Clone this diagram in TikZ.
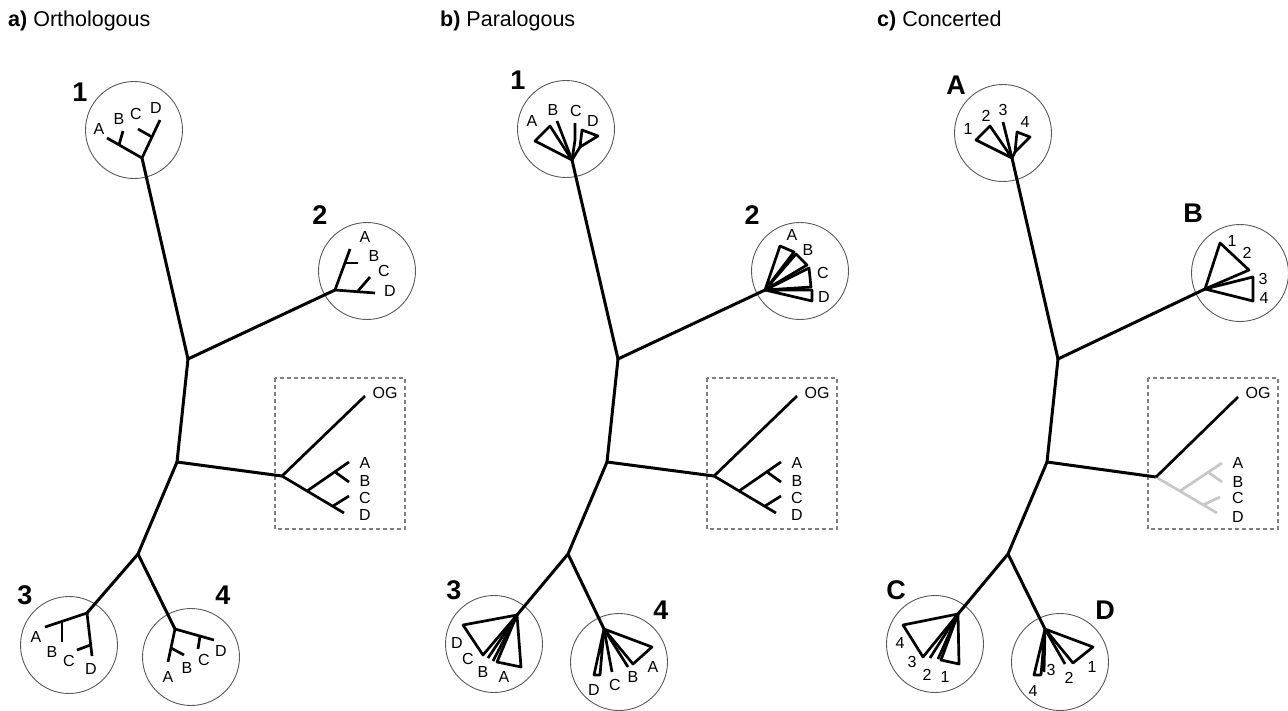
\documentclass[tikz,border=0pt]{standalone}
\usepackage{fontspec}
\setmainfont{Liberation Sans}
\begin{document}
\begin{tikzpicture}[x=1pt,y=-1pt]
\tikzset{
 trunk/.style={line width=3pt, line cap=round},
 br/.style={line width=2.7pt, line join=round, line cap=butt},
 ring/.style={circle, draw=black!65, line width=0.9pt, minimum size=97pt, inner sep=0pt},
 lab/.style={font=\fontsize{16}{16}\selectfont, inner sep=0pt},
 big/.style={font=\bfseries\fontsize{27}{27}\selectfont, inner sep=0pt},
 ttl/.style={font=\fontsize{21.5}{21.5}\selectfont, anchor=west, inner sep=0pt},
 ogbox/.style={draw=black!50, line width=1.1pt, dash pattern=on 4pt off 3pt},
 gr/.style={br, draw=black!22},
}
\useasboundingbox (0,0) rectangle (1288,710);

% ---------------- titles
\node[ttl] (ta) at (8,21) {\textbf{a)} Orthologous};
\node[ttl] (tb) at (440,21) {\textbf{b)} Paralogous};
\node[ttl] (tc) at (877,21) {\textbf{c)} Concerted};

% =============== PANEL A
\node[ring] (a-c1) at (134,130) {};
\node[ring] (a-c2) at (367,271) {};
\node[ring] (a-c3) at (69,645) {};
\node[ring] (a-c4) at (191,657) {};
\draw[ogbox] (275,378) rectangle (405,529);
\node[big] (a-l1) at (80,92) {1};
\node[big] (a-l2) at (320,215) {2};
\node[big] (a-l3) at (25,595) {3};
\node[big] (a-l4) at (223,595) {4};

\coordinate (a-n1) at (188,359);
\coordinate (a-n2) at (177,462);
\coordinate (a-n3) at (138,554);
\coordinate (a-r1) at (142,158);
\coordinate (a-r2) at (335,290);
\coordinate (a-og) at (282,476);
\coordinate (a-r3) at (87,613);
\coordinate (a-r4) at (175,629);
\draw[trunk] (a-r1) -- (a-n1) -- (a-r2);
\draw[trunk] (a-n1) -- (a-n2) -- (a-og);
\draw[trunk] (a-n2) -- (a-n3) -- (a-r3);
\draw[trunk] (a-n3) -- (a-r4);

% circle 1
\draw[br] (107,138) -- (a-r1) -- (160,120);
\draw[br] (119,145) -- (123,131);
\draw[br] (152,137) -- (138,129);
\node[lab] (a1A) at (99,129) {A};
\node[lab] (a1B) at (119,119) {B};
\node[lab] (a1C) at (136,114) {C};
\node[lab] (a1D) at (156,108) {D};
% circle 2
\draw[br] (350,249) -- (a-r2) -- (375,293);
\draw[br] (345,263) -- (358,263);
\draw[br] (358,291) -- (370,277);
\node[lab] (a2A) at (365,237) {A};
\node[lab] (a2B) at (374,256) {B};
\node[lab] (a2C) at (384,271) {C};
\node[lab] (a2D) at (390,291) {D};
% circle 3
\draw[br] (45,627) -- (a-r3) -- (92,656);
\draw[br] (62,621) -- (62,642);
\draw[br] (90.5,645) -- (77,650);
\node[lab] (a3A) at (36,637) {A};
\node[lab] (a3B) at (52,652) {B};
\node[lab] (a3C) at (69,661) {C};
\node[lab] (a3D) at (91,669) {D};
% circle 4
\draw[br] (168,662) -- (a-r4) -- (214,640);
\draw[br] (171,648) -- (184,655);
\draw[br] (200,636) -- (198,649);
\node[lab] (a4A) at (168,677) {A};
\node[lab] (a4B) at (187,668) {B};
\node[lab] (a4C) at (204,660) {C};
\node[lab] (a4D) at (221,651) {D};
% box
\draw[br] (365,396) -- (a-og) -- (344,513);
\draw[br] (307,491) -- (349,462);
\draw[br] (335,472) -- (349,482);
\draw[br] (333,506) -- (349,496);
\node[lab] (aOG) at (385,393) {OG};
\node[lab] (abA) at (365,463) {A};
\node[lab] (abB) at (365,481) {B};
\node[lab] (abC) at (365,498) {C};
\node[lab] (abD) at (365,515) {D};

% =============== PANEL B
\node[ring] (b-c1) at (566,129) {};
\node[ring] (b-c2) at (800,271) {};
\node[ring] (b-c3) at (494,644) {};
\node[ring] (b-c4) at (619,662) {};
\draw[ogbox] (707,378) rectangle (837,529);
\node[big] (b-l1) at (518,80) {1};
\node[big] (b-l2) at (752,215) {2};
\node[big] (b-l3) at (454,590) {3};
\node[big] (b-l4) at (661,610) {4};

\coordinate (b-n1) at (618,359);
\coordinate (b-n2) at (607,462);
\coordinate (b-n3) at (568,554);
\coordinate (b-r1) at (572,160);
\coordinate (b-r2) at (765,290);
\coordinate (b-og) at (714,476);
\coordinate (b-r3) at (517,615);
\coordinate (b-r4) at (604,629);
\draw[trunk] (b-r1) -- (b-n1) -- (b-r2);
\draw[trunk] (b-n1) -- (b-n2) -- (b-og);
\draw[trunk] (b-n2) -- (b-n3) -- (b-r3);
\draw[trunk] (b-n3) -- (b-r4);

% circle 1
\draw[br] (b-r1) -- (535,141) -- (550,126) -- cycle;
\draw[br] (b-r1) -- (557,121);
\draw[br] (b-r1) -- (575,140) -- (575,123);
\draw[br] (b-r1) -- (580,147);
\draw[br] (580,147) -- (582,130) -- (598,136) -- cycle;
\node[lab] (b1A) at (532,121) {A};
\node[lab] (b1B) at (553,110) {B};
\node[lab] (b1C) at (576,111) {C};
\node[lab] (b1D) at (593,121) {D};
% circle 2
\draw[br] (b-r2) -- (780,246) -- (794,252) -- cycle;
\draw[br] (b-r2) -- (796,254) -- (807,265) -- cycle;
\draw[br] (b-r2) -- (809,268) -- (811,287) -- cycle;
\draw[br] (b-r2) -- (812,290) -- (812,301) -- cycle;
\node[lab] (b2A) at (792,235) {A};
\node[lab] (b2B) at (808,250) {B};
\node[lab] (b2C) at (823,273) {C};
\node[lab] (b2D) at (824,297) {D};
% circle 3
\draw[br] (b-r3) -- (463,625) -- (483,655) -- cycle;
\draw[br] (b-r3) -- (488,658);
\draw[br] (b-r3) -- (493,661);
\draw[br] (b-r3) -- (497,662) -- (521,667) -- cycle;
\node[lab] (b3D) at (457,643) {D};
\node[lab] (b3C) at (468,659) {C};
\node[lab] (b3B) at (483,672) {B};
\node[lab] (b3A) at (504,677) {A};
% circle 4
\draw[br] (b-r4) -- (594,675) -- (600,675) -- cycle;
\draw[br] (b-r4) -- (612,672);
\draw[br] (b-r4) -- (628,667);
\draw[br] (b-r4) -- (652,647) -- (633,664) -- cycle;
\node[lab] (b4D) at (594,690) {D};
\node[lab] (b4C) at (615,685) {C};
\node[lab] (b4B) at (633,677) {B};
\node[lab] (b4A) at (653,667) {A};
% box
\draw[br] (797,396) -- (b-og) -- (776,513);
\draw[br] (739,491) -- (781,462);
\draw[br] (767,472) -- (781,482);
\draw[br] (765,506) -- (781,496);
\node[lab] (bOG) at (817,393) {OG};
\node[lab] (bbA) at (797,463) {A};
\node[lab] (bbB) at (797,481) {B};
\node[lab] (bbC) at (797,498) {C};
\node[lab] (bbD) at (797,515) {D};

% =============== PANEL C
\node[ring] (c-cA) at (1003,133) {};
\node[ring] (c-cB) at (1240,273) {};
\node[ring] (c-cC) at (935,644) {};
\node[ring] (c-cD) at (1060,662) {};
\draw[ogbox] (1148,378) rectangle (1278,529);
\node[big] (c-lA) at (956,85) {A};
\node[big] (c-lB) at (1193,213) {B};
\node[big] (c-lC) at (896,590) {C};
\node[big] (c-lD) at (1105,610) {D};

\coordinate (c-n1) at (1058,359);
\coordinate (c-n2) at (1047,462);
\coordinate (c-n3) at (1008,554);
\coordinate (c-r1) at (1012,158);
\coordinate (c-r2) at (1205,289);
\coordinate (c-og) at (1156,477);
\coordinate (c-r3) at (958,614);
\coordinate (c-r4) at (1045,629);
\draw[trunk] (c-r1) -- (c-n1) -- (c-r2);
\draw[trunk] (c-n1) -- (c-n2) -- (c-og);
\draw[trunk] (c-n2) -- (c-n3) -- (c-r3);
\draw[trunk] (c-n3) -- (c-r4);

% circle A
\draw[br] (c-r1) -- (976,140) -- (990,126) -- cycle;
\draw[br] (c-r1) -- (1003,122);
\draw[br] (c-r1) -- (1015,152);
\draw[br] (1015,152) -- (1017,132) -- (1030,137) -- cycle;
\node[lab] (cA1) at (968,129) {1};
\node[lab] (cA2) at (986,116) {2};
\node[lab] (cA3) at (1003,110) {3};
\node[lab] (cA4) at (1025,122) {4};
% circle B
\draw[br] (c-r2) -- (1220,243) -- (1249,270) -- cycle;
\draw[br] (c-r2) -- (1253,277) -- (1253,301) -- cycle;
\node[lab] (cB1) at (1232,241) {1};
\node[lab] (cB2) at (1247,253) {2};
\node[lab] (cB3) at (1263,279) {3};
\node[lab] (cB4) at (1264,298) {4};
% circle C
\draw[br] (c-r3) -- (903,625) -- (923,657) -- cycle;
\draw[br] (c-r3) -- (930,658);
\draw[br] (c-r3) -- (938,659);
\draw[br] (c-r3) -- (941,660) -- (959,664) -- cycle;
\node[lab] (cC4) at (900,643) {4};
\node[lab] (cC3) at (912,662) {3};
\node[lab] (cC2) at (927,675) {2};
\node[lab] (cC1) at (945,677) {1};
% circle D
\draw[br] (c-r4) -- (1034,675) -- (1041,675) -- cycle;
\draw[br] (c-r4) -- (1044,672);
\draw[br] (c-r4) -- (1065,664);
\draw[br] (c-r4) -- (1093,647) -- (1073,663) -- cycle;
\node[lab] (cD4) at (1033,691) {4};
\node[lab] (cD3) at (1051,670) {3};
\node[lab] (cD2) at (1069,678) {2};
\node[lab] (cD1) at (1092,667) {1};
% box
\draw[gr] (c-og) -- (1217,513);
\draw[gr] (1180,491) -- (1222,463);
\draw[gr] (1208,472) -- (1222,482);
\draw[gr] (1203,505) -- (1220,497);
\draw[br] (1238,397) -- (c-og);
\node[lab] (cOG) at (1258,393) {OG};
\node[lab] (cbA) at (1238,463) {A};
\node[lab] (cbB) at (1238,482) {B};
\node[lab] (cbC) at (1238,498) {C};
\node[lab] (cbD) at (1238,517) {D};
\end{tikzpicture}
\end{document}
